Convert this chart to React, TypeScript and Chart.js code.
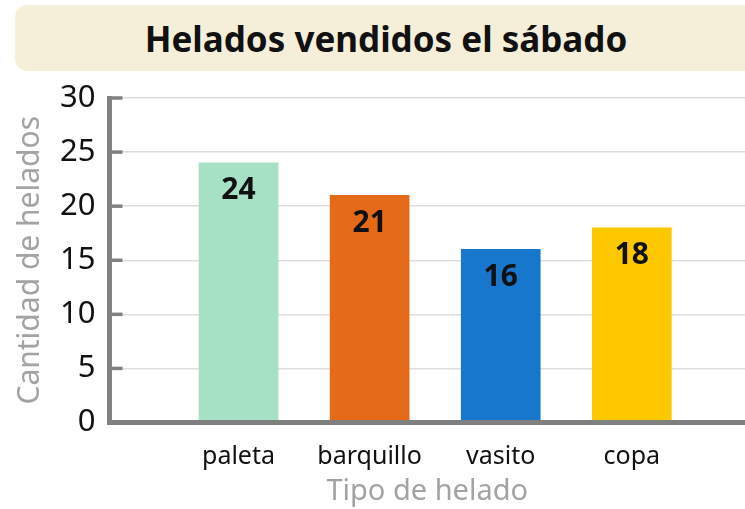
import React, { useEffect, useRef } from "react";
import { Chart, registerables } from "chart.js";

Chart.register(...registerables);

const chartTitle = "Helados vendidos el sábado";
const categories = ["paleta", "barquillo", "vasito", "copa"];
const sold = [24, 21, 16, 18];
const barColors = ["#a6e1c6", "#e56a17", "#1777cd", "#fec800"];
const yTicks = [0, 5, 10, 15, 20, 25, 30];
const yTitle = "Cantidad de helados";
const xTitle = "Tipo de helado";

const FONT = "'Noto Sans', sans-serif";

const innerTicks = {
  id: "innerTicks",
  afterDraw(chart: any) {
    const { ctx, chartArea, scales } = chart;
    const y = scales.y;
    ctx.save();
    ctx.strokeStyle = "#808080";
    ctx.lineWidth = 3.5;
    yTicks.forEach((v) => {
      const py = y.getPixelForValue(v);
      ctx.beginPath();
      ctx.moveTo(chartArea.left, py);
      ctx.lineTo(chartArea.left + 13, py);
      ctx.stroke();
    });
    ctx.restore();
  },
};

const barLabels = {
  id: "barLabels",
  afterDatasetsDraw(chart: any) {
    const { ctx } = chart;
    const meta = chart.getDatasetMeta(0);
    ctx.save();
    ctx.fillStyle = "#111";
    ctx.font = `bold 30px ${FONT}`;
    ctx.textAlign = "center";
    ctx.textBaseline = "middle";
    meta.data.forEach((el: any, i: number) => {
      ctx.fillText(String(sold[i]), el.x, el.y + 28);
    });
    ctx.restore();
  },
};

export default function App() {
  const ref = useRef<HTMLCanvasElement>(null);
  useEffect(() => {
    if (!ref.current) return;
    const chart = new Chart(ref.current, {
      type: "bar",
      data: {
        datasets: [
          {
            data: sold.map((v, i) => ({ x: i, y: v })),
            backgroundColor: barColors,
            barThickness: 79,
            borderWidth: 0,
          },
        ],
      },
      options: {
        animation: false,
        responsive: false,
        maintainAspectRatio: false,
        layout: { padding: { top: 98, right: 0, left: 0, bottom: 0 } },
        plugins: { legend: { display: false }, tooltip: { enabled: false }, title: { display: false } },
        scales: {
          x: {
            type: "linear",
            offset: false,
            min: -0.984,
            max: 3.863,
            afterBuildTicks: (s: any) => {
              s.ticks = categories.map((_, i) => ({ value: i }));
            },
            afterFit: (s: any) => {
              s.height = 86.5;
            },
            grid: { display: false, drawTicks: false, offset: false },
            border: { display: true, width: 5, color: "#808080", z: 1 },
            ticks: {
              color: "#111",
              font: { family: FONT, size: 25 },
              padding: 19,
              maxRotation: 0,
              autoSkip: false,
              callback: (v: any) => categories[v] ?? "",
            },
            title: {
              display: true,
              text: xTitle,
              color: "#a3a3a3",
              font: { family: FONT, size: 29 },
              padding: { top: 0, bottom: 0 },
            },
          },
          y: {
            min: 0,
            max: 30,
            afterBuildTicks: (s: any) => {
              s.ticks = yTicks.map((v) => ({ value: v }));
            },
            afterFit: (s: any) => {
              s.width = 109.5;
            },
            grid: { color: "#dddddd", lineWidth: 1.5, drawTicks: false },
            border: { display: true, width: 5, color: "#808080", z: 1 },
            ticks: {
              color: "#111",
              font: { family: FONT, size: 31 },
              padding: 14,
            },
            title: {
              display: true,
              text: yTitle,
              color: "#a3a3a3",
              font: { family: FONT, size: 30 },
              padding: { top: 12, bottom: 0 },
            },
          },
        },
      },
      plugins: [innerTicks, barLabels],
    });
    return () => chart.destroy();
  }, []);

  return (
    <div
      style={{
        position: "fixed",
        left: 0,
        top: 0,
        width: 745,
        height: 509,
        overflow: "hidden",
        background: "#fff",
      }}
    >
      <canvas ref={ref} width={745} height={509} style={{ position: "absolute", left: 0, top: 0 }} />
      <div
        style={{
          position: "absolute",
          left: 15,
          top: 5,
          width: 742,
          height: 66,
          background: "#f5efd9",
          borderRadius: 12,
          display: "flex",
          alignItems: "center",
          justifyContent: "center",
          fontFamily: FONT,
          fontWeight: 700,
          fontSize: 35,
          color: "#111",
        }}
      >
        {chartTitle}
      </div>
    </div>
  );
}
